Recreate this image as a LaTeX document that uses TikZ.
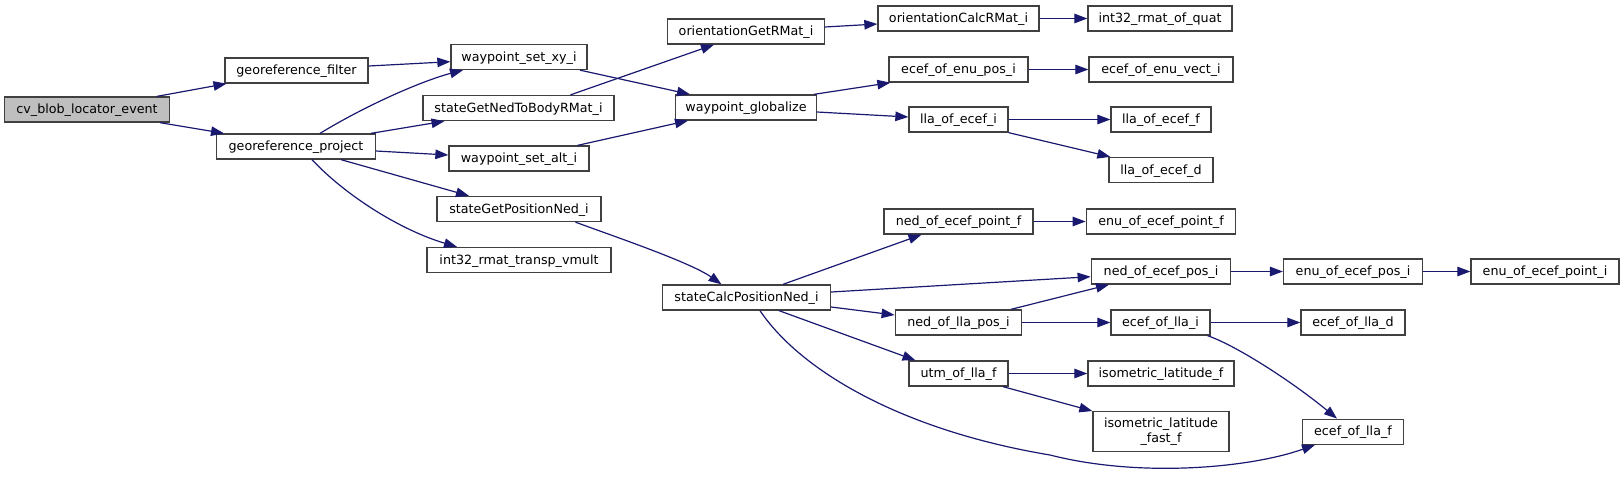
\documentclass[tikz,border=0pt]{standalone}
\usepackage{fontspec}
\setmainfont{DejaVu Sans}
\usetikzlibrary{arrows.meta}
\definecolor{edgeblue}{HTML}{191970}
\definecolor{boxline}{HTML}{404040}
\definecolor{mainfill}{HTML}{BFBFBF}
\begin{document}
\begin{tikzpicture}[x=1pt,y=-1pt,
  box/.style={draw=boxline,line width=1.3pt,fill=white,inner sep=0pt,minimum height=25pt,font=\fontsize{12.7}{14.3}\selectfont},
  sbox/.style={box,text height=10pt,text depth=2pt},
  e/.style={draw=edgeblue,line width=1.2pt,-{Triangle[length=13pt,width=9.5pt]}}]
\useasboundingbox (0,0) rectangle (1624,477);
% column 1
\node[sbox,fill=mainfill,minimum width=164.5pt] (cv) at (87,109.5) {cv\_blob\_locator\_event};
% column 2
\node[sbox,minimum width=143pt] (gf) at (296.5,70.5) {georeference\_filter};
\node[sbox,minimum width=158.5pt] (gp) at (296,146.5) {georeference\_project};
% column 3
\node[sbox,minimum width=136pt] (wxy) at (519,57) {waypoint\_set\_xy\_i};
\node[sbox,minimum width=191pt] (sgn) at (518.5,108) {stateGetNedToBodyRMat\_i};
\node[sbox,minimum width=140pt] (wal) at (519,158.5) {waypoint\_set\_alt\_i};
\node[sbox,minimum width=164pt] (sgp) at (519,209) {stateGetPositionNed\_i};
\node[sbox,minimum width=184pt] (irt) at (519,260) {int32\_rmat\_transp\_vmult};
% column 4
\node[sbox,minimum width=156.5pt] (ogr) at (746,31.5) {orientationGetRMat\_i};
\node[sbox,minimum width=140.5pt] (wgl) at (746,107.5) {waypoint\_globalize};
\node[sbox,minimum width=168pt] (scp) at (746.5,297.5) {stateCalcPositionNed\_i};
% column 5
\node[sbox,minimum width=161pt] (ocr) at (958.5,18.5) {orientationCalcRMat\_i};
\node[sbox,minimum width=139pt] (eep) at (958.5,69.5) {ecef\_of\_enu\_pos\_i};
\node[sbox,minimum width=99pt] (loi) at (958.5,119.5) {lla\_of\_ecef\_i};
\node[sbox,minimum width=149pt] (nepf) at (958.5,221.5) {ned\_of\_ecef\_point\_f};
\node[sbox,minimum width=126.5pt] (nlp) at (958.5,322.5) {ned\_of\_lla\_pos\_i};
\node[sbox,minimum width=99pt] (ulf) at (958.5,373.5) {utm\_of\_lla\_f};
% column 6
\node[sbox,minimum width=144pt] (irq) at (1160,18.5) {int32\_rmat\_of\_quat};
\node[sbox,minimum width=144pt] (eev) at (1161,69.5) {ecef\_of\_enu\_vect\_i};
\node[sbox,minimum width=100pt] (lof) at (1161,119.5) {lla\_of\_ecef\_f};
\node[sbox,minimum width=104pt] (lod) at (1161,170) {lla\_of\_ecef\_d};
\node[sbox,minimum width=149.5pt] (eepf) at (1161,221.5) {enu\_of\_ecef\_point\_f};
\node[sbox,minimum width=139.5pt] (nepi) at (1161,271.5) {ned\_of\_ecef\_pos\_i};
\node[sbox,minimum width=99pt] (eli) at (1160.5,322.5) {ecef\_of\_lla\_i};
\node[sbox,minimum width=146pt] (ilf) at (1161,373.5) {isometric\_latitude\_f};
\node[box,minimum width=136pt,minimum height=40pt,align=center] (ilff) at (1161,431.7) {isometric\_latitude\\\_fast\_f};
% column 7
\node[sbox,minimum width=139pt] (eepi) at (1353,271.5) {enu\_of\_ecef\_pos\_i};
\node[sbox,minimum width=104pt] (eld) at (1353,322.5) {ecef\_of\_lla\_d};
\node[sbox,minimum width=100.5pt] (elf) at (1353,431.7) {ecef\_of\_lla\_f};
% column 8
\node[sbox,minimum width=148pt] (eepti) at (1545,271.5) {enu\_of\_ecef\_point\_i};
\coordinate (lowbend) at (1050,455);
% edges
\draw[e] ([xshift=70pt]cv.north) -- ([xshift=-70pt]gf.south);
\draw[e] ([xshift=73pt]cv.south) -- ([xshift=-72pt]gp.north);
\draw[e] ([yshift=4.5pt]gf.east) -- ([yshift=-4.7pt]wxy.west);
\draw[e] ([xshift=24pt]gp.north) .. controls (370,103) and (425,80) .. ([xshift=-56pt]wxy.south);
\draw[e] ([xshift=75pt]gp.north) -- ([xshift=-74pt]sgn.south);
\draw[e] ([yshift=-4.5pt]gp.east) -- ([yshift=3.5pt]wal.west);
\draw[e] ([xshift=45pt]gp.south) -- ([xshift=-50pt]sgp.north);
\draw[e] ([xshift=16pt]gp.south) .. controls (345,195) and (400,230) .. ([xshift=-62pt]irt.north);
\draw[e] ([xshift=61pt]wxy.south) -- ([xshift=-56pt]wgl.north);
\draw[e] ([xshift=52pt]sgn.north) -- ([xshift=-32pt]ogr.south);
\draw[e] ([xshift=58.6pt]wal.north) -- ([xshift=-58pt]wgl.south);
\draw[e] ([yshift=4.5pt]ogr.east) -- ([yshift=-5.5pt]ocr.west);
\draw[e] (ocr) -- (irq);
\draw[e] ([xshift=-3pt]wgl.north east) -- ([xshift=2pt]eep.south west);
\draw[e] ([yshift=-4.5pt]wgl.east) -- ([yshift=2.5pt]loi.west);
\draw[e] (eep) -- (eev);
\draw[e] (loi) -- (lof);
\draw[e] (loi.south east) -- ([xshift=2pt]lod.north west);
\draw[e] ([xshift=56.5pt]sgp.south) .. controls (610,235) and (690,262) .. ([xshift=-25pt]scp.north);
\draw[e] ([xshift=36.5pt]scp.north) -- ([xshift=-37pt]nepf.south);
\draw[e] ([yshift=5.5pt]scp.east) -- ([yshift=-5.2pt]nepi.west);
\draw[e] ([yshift=-9.5pt]scp.east) -- ([yshift=7.5pt]nlp.west);
\draw[e] ([xshift=32.5pt]scp.south) -- ([xshift=-43pt]ulf.north);
\draw[e] ([xshift=13.5pt]scp.south) .. controls (800,370) and (900,430) .. (lowbend) .. controls (1140,478) and (1250,468) .. ([xshift=-38pt]elf.south);
\draw[e] ([xshift=52.5pt]nlp.north) -- ([xshift=-52pt]nepi.south);
\draw[e] (nlp) -- (eli);
\draw[e] (nepf) -- (eepf);
\draw[e] (nepi) -- (eepi);
\draw[e] (eepi) -- (eepti);
\draw[e] (eli) -- (eld);
\draw[e] ([xshift=47pt]eli.south) .. controls (1235,345) and (1290,380) .. ([xshift=-16pt]elf.north);
\draw[e] (ulf) -- (ilf);
\draw[e] ([xshift=44.5pt]ulf.south) -- (ilff.north west);
\end{tikzpicture}
\end{document}
